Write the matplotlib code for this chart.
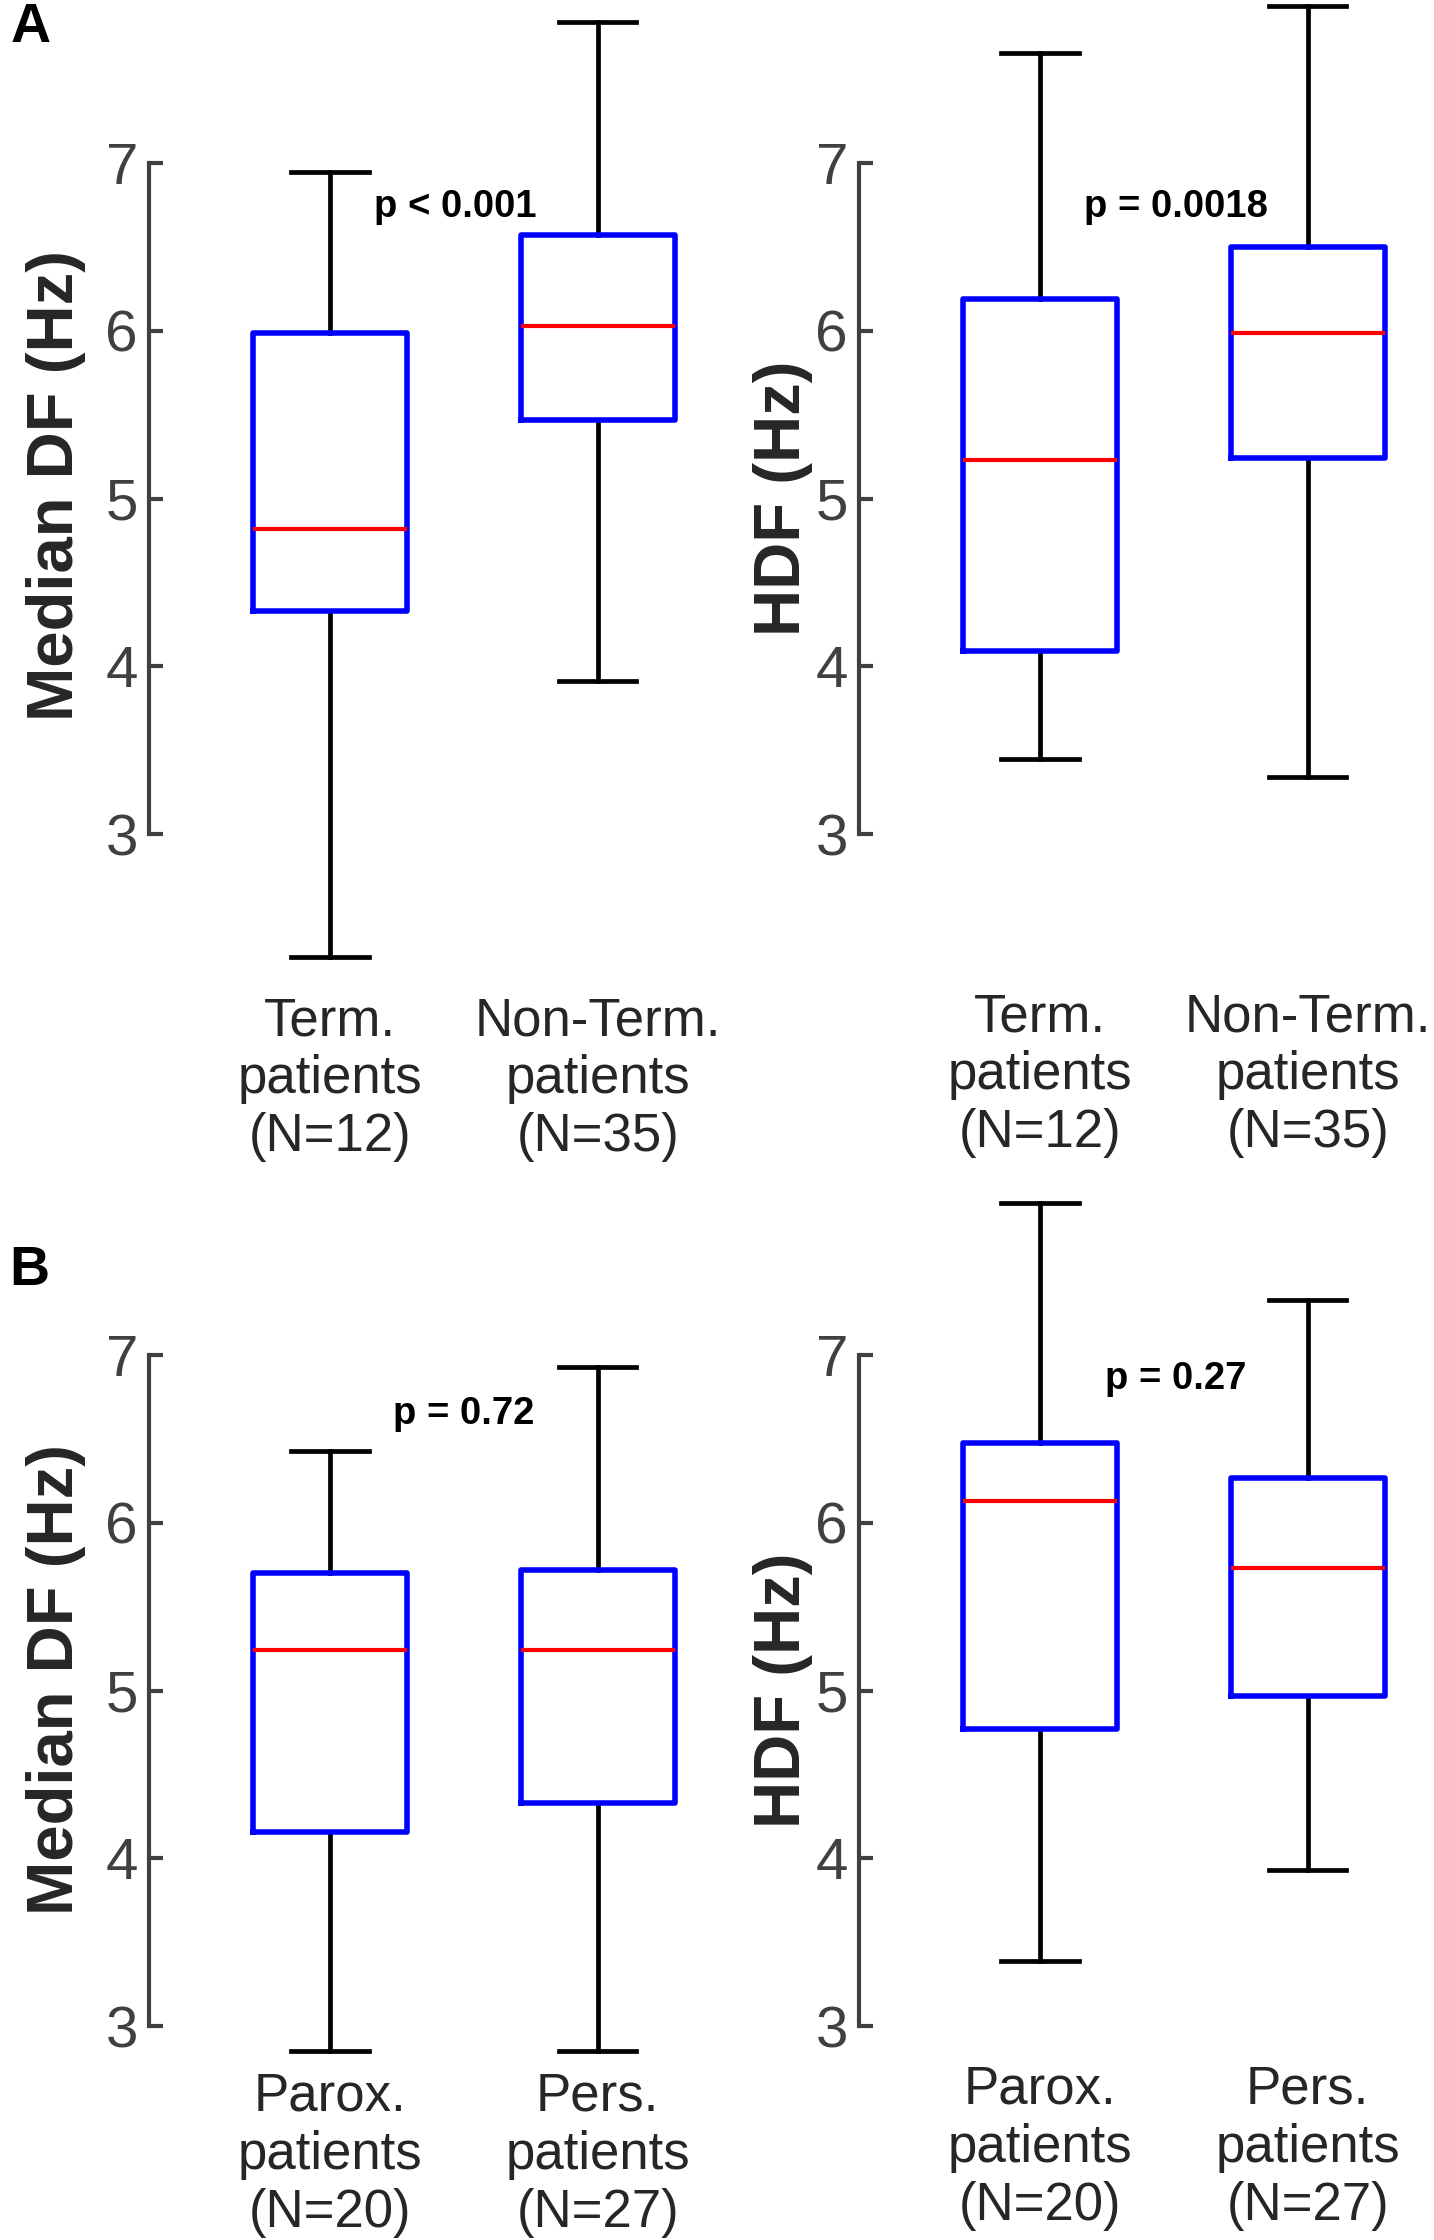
import matplotlib
matplotlib.use("Agg")
import matplotlib.pyplot as plt

plt.rcParams['font.family'] = ['Liberation Sans', 'DejaVu Sans']

# box statistics: whislo, q1, med, q3, whishi
term_df = [2.27, 4.33, 4.82, 5.99, 6.95]
nonterm_df = [3.91, 5.47, 6.03, 6.57, 7.84]
term_hdf = [3.45, 4.09, 5.23, 6.19, 7.66]
nonterm_hdf = [3.34, 5.24, 5.99, 6.50, 7.94]
parox_df = [2.85, 4.16, 5.24, 5.70, 6.43]
pers_df = [2.85, 4.33, 5.24, 5.72, 6.93]
parox_hdf = [3.39, 4.77, 6.13, 6.48, 7.91]
pers_hdf = [3.93, 4.97, 5.73, 6.27, 7.33]

labels_a = ['Term.\npatients\n(N=12)', 'Non-Term.\npatients\n(N=35)']
labels_b = ['Parox.\npatients\n(N=20)', 'Pers.\npatients\n(N=27)']
pvals = ['p < 0.001', 'p = 0.0018', 'p = 0.72', 'p = 0.27']
ylabels = ['Median DF (Hz)', 'HDF (Hz)', 'Median DF (Hz)', 'HDF (Hz)']
yticks = [3, 4, 5, 6, 7]

W, H = 1434, 2240
fig = plt.figure(figsize=(W / 100, H / 100), dpi=100)
fig.patch.set_facecolor('white')

XMIN, XMAX = 0.324, 2.6
UX, UY = 267.7, 167.7  # px per data unit


def make_ax(spine_px, y7_px):
    left = spine_px / W
    bottom = 1 - (y7_px + 4 * UY) / H
    return fig.add_axes([left, bottom, (XMAX - XMIN) * UX / W, 4 * UY / H])


def to_stats(vals):
    lo, q1, med, q3, hi = vals
    return dict(whislo=lo, q1=q1, med=med, q3=q3, whishi=hi, fliers=[])


panels = [
    (149, 163.3, [term_df, nonterm_df], labels_a, 117, (1.165, 6.74), (-0.152, 0.519)),
    (859, 163.3, [term_hdf, nonterm_hdf], labels_a, 114, (1.163, 6.74), (-0.125, 0.50)),
    (149, 1355.3, [parox_df, pers_df], labels_b, 33, (1.235, 6.65), (-0.152, 0.517)),
    (859, 1355.3, [parox_hdf, pers_hdf], labels_b, 28, (1.243, 6.86), (-0.125, 0.50)),
]

gray = '#404040'
for i, (sx, y7, data, labs, pad, ptxt, ylpos) in enumerate(panels):
    ax = make_ax(sx, y7)
    art = ax.bxp([to_stats(d) for d in data], positions=[1, 2], widths=0.575,
                 capwidths=0.288, showfliers=False,
                 boxprops=dict(color='#0000ff', linewidth=4.0),
                 medianprops=dict(color='#ff0000', linewidth=3.0),
                 whiskerprops=dict(color='black', linewidth=3.4, linestyle='-'),
                 capprops=dict(color='black', linewidth=3.4))
    for key in art:
        for a in art[key]:
            a.set_clip_on(False)
    for key in ['boxes', 'medians']:
        for a in art[key]:
            a.set_zorder(3)
    ax.set_xlim(XMIN, XMAX)
    ax.set_ylim(3, 7)
    ax.set_yticks(yticks)
    ax.set_xticks([1, 2])
    ax.set_xticklabels(labs, fontsize=38, color='#262626', linespacing=1.2)
    ax.tick_params(axis='x', length=0, pad=pad)
    ax.tick_params(axis='y', direction='in', length=10, width=3.0,
                   colors=gray, labelsize=42, pad=8)
    for s in ['top', 'right', 'bottom']:
        ax.spines[s].set_visible(False)
    ax.spines['left'].set_color(gray)
    ax.spines['left'].set_linewidth(3.0)
    ax.patch.set_alpha(0)
    ax.text(ptxt[0], ptxt[1], pvals[i], fontsize=27.5, fontweight='bold',
            ha='left', va='center')
    ax.text(ylpos[0], ylpos[1], ylabels[i], transform=ax.transAxes,
            rotation=90, ha='center', va='center', fontsize=47,
            fontweight='bold', color='#262626')

fig.text(11 / W, 1 - 2 / H, 'A', fontsize=40, fontweight='bold', va='top', ha='left')
fig.text(9 / W, 1 - 1245 / H, 'B', fontsize=40, fontweight='bold', va='top', ha='left')

fig.savefig('out.png', dpi=100, facecolor='white')
